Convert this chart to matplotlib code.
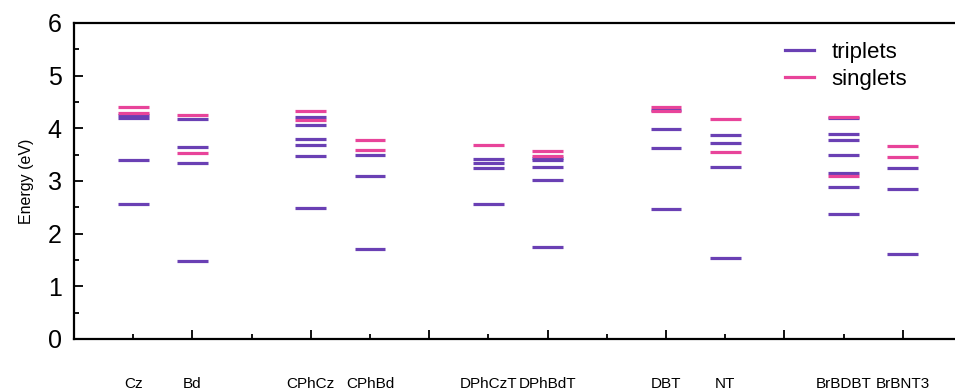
import matplotlib
matplotlib.use("Agg")
import matplotlib.pyplot as plt
from matplotlib.ticker import MultipleLocator
from matplotlib.lines import Line2D

names = ["Cz", "Bd", "CPhCz", "CPhBd", "DPhCzT", "DPhBdT", "DBT", "NT", "BrBDBT", "BrBNT3"]

triplets = [
    [2.56, 3.40, 4.20, 4.26],                         # Cz
    [1.48, 3.34, 3.65, 4.18],                         # Bd
    [2.49, 3.48, 3.68, 3.79, 4.06, 4.21],             # CPhCz
    [1.70, 3.09, 3.50],                               # CPhBd
    [2.56, 3.24, 3.35, 3.42],                         # DPhCzT
    [1.75, 3.02, 3.27, 3.40, 3.44],                   # DPhBdT
    [2.47, 3.63, 3.99, 4.35],                         # DBT
    [1.54, 3.26, 3.73, 3.87],                         # NT
    [2.37, 2.89, 3.16, 3.50, 3.78, 3.90, 4.20],       # BrBDBT
    [1.61, 2.84, 3.24],                               # BrBNT3
]
singlets = [
    [4.29, 4.40],        # Cz
    [3.53, 4.25],        # Bd
    [4.16, 4.32],        # CPhCz
    [3.59, 3.77],        # CPhBd
    [3.68],              # DPhCzT
    [3.48, 3.57],        # DPhBdT
    [4.33, 4.40],        # DBT
    [3.56, 4.17],        # NT
    [3.09, 4.22],        # BrBDBT
    [3.46, 3.67],        # BrBNT3
]

PURPLE = "#6a40b4"
PINK = "#e8449a"

plt.rcParams["font.family"] = ["Liberation Sans", "DejaVu Sans"]

W, H = 955, 390
fig = plt.figure(figsize=(W / 100, H / 100), dpi=100)
ax_left, ax_bottom = 74 / W, (H - 339) / H
ax_h = (339 - 23) / H
ax_w = 888 / W
ax = fig.add_axes([ax_left, ax_bottom, ax_w, ax_h])

# positions: pairs separated by an empty slot
positions = []
for i in range(len(names)):
    positions.append(1 + (i // 2) * 3 + (i % 2))

hw = 0.26
for x, tr, si in zip(positions, triplets, singlets):
    ax.hlines(tr, x - hw, x + hw, color=PURPLE, lw=2.3)
    ax.hlines(si, x - hw, x + hw, color=PINK, lw=2.3)

ax.set_xlim(0, 15)
ax.set_ylim(0, 6)

for s in ["left", "bottom", "top"]:
    ax.spines[s].set_linewidth(1.6)
ax.spines["right"].set_visible(False)

ax.yaxis.set_major_locator(MultipleLocator(1))
ax.yaxis.set_minor_locator(MultipleLocator(0.5))
ax.xaxis.set_major_locator(MultipleLocator(2))
ax.xaxis.set_minor_locator(MultipleLocator(1))
ax.tick_params(which="both", direction="in", width=1.3)
ax.tick_params(which="major", length=6.5)
ax.tick_params(which="minor", length=3.5)
ax.tick_params(axis="y", labelsize=18, pad=9)
ax.tick_params(axis="x", labelbottom=False)

sec = ax.secondary_xaxis("bottom")
sec.set_xticks(positions, labels=names)
sec.spines["bottom"].set_visible(False)
sec.tick_params(length=0, pad=27, labelsize=11)

ax.set_ylabel("Energy (eV)", fontsize=11.5, labelpad=10)

handles = [Line2D([], [], color=PURPLE, lw=2.3), Line2D([], [], color=PINK, lw=2.3)]
fig.legend(handles, ["triplets", "singlets"], loc="upper left",
           bbox_to_anchor=(785 / W, 1 - 42 / H), frameon=False, fontsize=16,
           borderpad=0, borderaxespad=0, handlelength=1.3, handletextpad=0.8,
           labelspacing=0.25)

fig.savefig("out.png", dpi=100)
